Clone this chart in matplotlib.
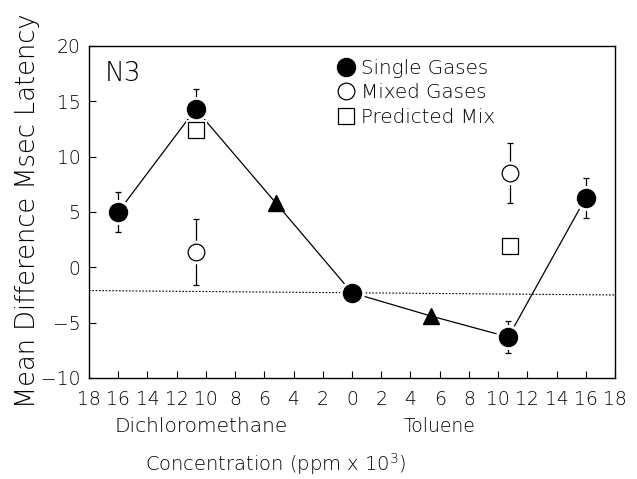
import numpy as np
import matplotlib
matplotlib.use("Agg")
import matplotlib.pyplot as plt
from matplotlib.lines import Line2D

plt.rcParams['font.family'] = ['DejaVu Sans']
plt.rcParams['font.weight'] = 'light'

# concentration axis: negative = dichloromethane, positive = toluene
single_x = [-16, -10.7, 0, 10.7, 16]
single_y = [5.0, 14.3, -2.3, -6.3, 6.3]
single_err = [1.8, 1.8, 0.0, 1.45, 1.8]

mixed_x = [-10.7, 10.8]
mixed_y = [1.4, 8.5]
mixed_err = [3.0, 2.7]

predicted_x = [-10.7, 10.8]
predicted_y = [12.4, 1.9]

tri_x = [-5.2, 5.4]
tri_y = [5.8, -4.4]

baseline_x = [-18, 18]
baseline_y = [-2.1, -2.5]

xticks = np.arange(-18, 19, 2)
xticklabels = [str(abs(v)) for v in xticks]
yticks = [-10, -5, 0, 5, 10, 15, 20]

fig = plt.figure(figsize=(6.37, 4.79), dpi=100)
ax = fig.add_axes([0.1397, 0.2109, 0.8258, 0.6931])

# dotted reference level
ax.plot(baseline_x, baseline_y, color='black', lw=0.8, ls=(0, (1.5, 1.5)), zorder=1)

# dose-response line through single gases and intermediate doses
lx = np.concatenate([single_x, tri_x])
ly = np.concatenate([single_y, tri_y])
order = np.argsort(lx)
ax.plot(lx[order], ly[order], color='black', lw=0.9, zorder=2)

# error bars
ax.errorbar(single_x, single_y, yerr=single_err, fmt='none', ecolor='black',
            elinewidth=0.9, capsize=2.2, capthick=0.9, zorder=3)
ax.errorbar(mixed_x, mixed_y, yerr=mixed_err, fmt='none', ecolor='black',
            elinewidth=0.9, capsize=2.2, capthick=0.9, zorder=3)

halo = dict(ls='none', mfc='white', mec='white', zorder=4)
ax.plot(predicted_x, predicted_y, marker='s', ms=12, mew=3.5, **halo)
ax.plot(predicted_x, predicted_y, marker='s', ms=12, ls='none', mfc='white',
        mec='black', mew=0.9, zorder=5)
ax.plot(mixed_x, mixed_y, marker='o', ms=12, mew=5, **halo)
ax.plot(mixed_x, mixed_y, marker='o', ms=12, ls='none', mfc='white',
        mec='black', mew=0.9, zorder=5)
ax.plot(single_x, single_y, marker='o', ms=13, mew=5, **halo)
ax.plot(single_x, single_y, marker='o', ms=13, ls='none', color='black', zorder=6)
ax.plot(tri_x, tri_y, marker='^', ms=12, ls='none', color='black', zorder=6)

ax.set_xlim(-18, 18)
ax.set_ylim(-10, 20)
ax.set_xticks(xticks)
ax.set_xticklabels(xticklabels)
ax.set_yticks(yticks)
ax.tick_params(direction='in', length=5, width=0.8, labelsize=13.5, pad=6)
ax.tick_params(axis='x', pad=9)
for s in ax.spines.values():
    s.set_linewidth(1.0)

ax.text(0.03, 0.955, 'N3', transform=ax.transAxes, fontsize=19,
        va='top', ha='left')

handles = [
    Line2D([], [], marker='o', ls='none', color='black', ms=13),
    Line2D([], [], marker='o', ls='none', mfc='white', mec='black', mew=0.9, ms=12),
    Line2D([], [], marker='s', ls='none', mfc='white', mec='black', mew=0.9, ms=12),
]
ax.legend(handles, ['Single Gases', 'Mixed Gases', 'Predicted Mix'],
          loc='upper left', bbox_to_anchor=(0.448, 1.0), frameon=False,
          fontsize=14.3, handlelength=0.8, handletextpad=0.4,
          labelspacing=0.27, borderaxespad=0.25)

trans = ax.get_xaxis_transform()
ax.text(-10.3, -0.145, 'Dichloromethane', transform=trans, ha='center',
        va='center', fontsize=14.5)
ax.text(6.0, -0.145, 'Toluene', transform=trans, ha='center',
        va='center', fontsize=13.5)
ax.text(-5.2, -0.259, r'Concentration (ppm x 10$^3$)', transform=trans,
        ha='center', va='center', fontsize=14)

fig.text(0.043, 0.56, 'Mean Difference Msec Latency', rotation=90,
         ha='center', va='center', fontsize=18.5)

fig.savefig('out.png', dpi=100)
